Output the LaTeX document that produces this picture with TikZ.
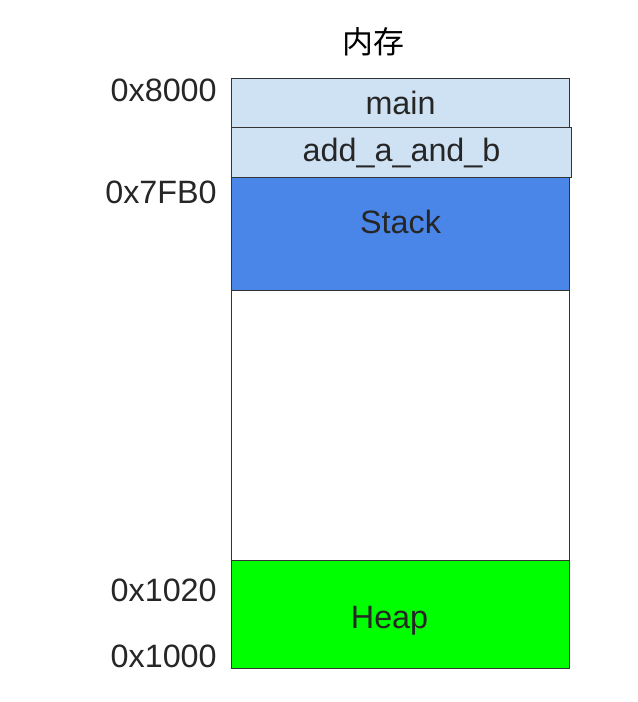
\documentclass[tikz,border=0pt]{standalone}
\usepackage{fontspec}
\setmainfont{Liberation Sans}
\newfontfamily\cjk{Noto Sans CJK SC}
\definecolor{framelight}{HTML}{CFE2F3}
\definecolor{stackblue}{HTML}{4A86E8}
\definecolor{heapgreen}{HTML}{00FF00}
\definecolor{edgegrey}{HTML}{333333}
\tikzset{
memblock/.style={
	  draw=edgegrey, line width=0.8pt, anchor=north west,
	    inner sep=0pt, text=black!85},
addr/.style={anchor=east, inner sep=0pt, text=black!85}
}

\begin{document}
\begin{tikzpicture}[font=\fontsize{23}{27}\selectfont]
	\useasboundingbox (0,0) rectangle (15.925,-17.55);
	\node[inner sep=0pt, font=\fontsize{22}{26}\selectfont] (title) at (9.325,-1.05) {\cjk 内存};
	% stack frames
	\node[memblock, fill=framelight, minimum width=8.45cm, minimum height=1.225cm] (main) at (5.775,-1.95) {main};
	\node[memblock, fill=framelight, minimum width=8.5cm, minimum height=1.25cm] (frame) at (5.775,-3.175) {add\_a\_and\_b};
	\node[memblock, fill=stackblue, minimum width=8.45cm, minimum height=2.825cm,
		label={[anchor=center, yshift=-1.125cm, text=black!85]north:Stack}] (stack) at (5.775,-4.425) {};
	\node[memblock, fill=white, minimum width=8.45cm, minimum height=6.75cm] (free) at (5.775,-7.25) {};
	\node[memblock, fill=heapgreen, minimum width=8.45cm, minimum height=2.7cm,
		label={[anchor=center, xshift=-0.275cm, yshift=-0.15cm, text=black!85]center:Heap}] (heap) at (5.775,-14.0) {};
	% addresses
	\node[addr] (a8000) at (5.425,-2.25) {0x8000};
	\node[addr] (a7fb0) at (5.425,-4.8) {0x7FB0};
	\node[addr] (a1020) at (5.425,-14.75) {0x1020};
	\node[addr] (a1000) at (5.425,-16.4) {0x1000};
\end{tikzpicture}
\end{document}
